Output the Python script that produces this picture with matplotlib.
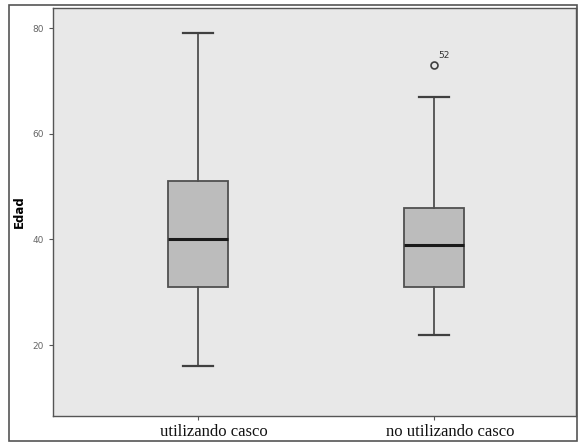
import matplotlib
matplotlib.use("Agg")
import matplotlib.pyplot as plt
import matplotlib.transforms as mtransforms
from matplotlib.patches import Rectangle

# data
grupos = ["utilizando casco", "no utilizando casco"]
mediana = [40, 39]
q1 = [31, 31]
q3 = [51, 46]
bigote_min = [16, 22]
bigote_max = [79, 67]
atipicos = [[], [73]]
atipicos_id = [[], ["52"]]

fig = plt.figure(figsize=(5.78, 4.44), dpi=100)
ax = fig.add_axes([53/578, 28/444, 523/578, 408/444])
ax.set_facecolor("#e8e8e8")

# outer frame around the whole chart
fig.patches.append(Rectangle((9/578, 3/444), 568/578, 436/444, transform=fig.transFigure,
                             fill=False, edgecolor="#555555", linewidth=1.2))

stats = []
for i in range(len(grupos)):
	stats.append({"med": mediana[i], "q1": q1[i], "q3": q3[i],
	              "whislo": bigote_min[i], "whishi": bigote_max[i],
	              "fliers": atipicos[i], "label": grupos[i]})

ax.bxp(stats, positions=[1, 2], widths=0.255, patch_artist=True, showfliers=True,
       boxprops=dict(facecolor="#bcbcbc", edgecolor="#505050", linewidth=1.3),
       medianprops=dict(color="#1a1a1a", linewidth=2.2),
       whiskerprops=dict(color="#505050", linewidth=1.3),
       capprops=dict(color="#404040", linewidth=1.6),
       capwidths=0.127,
       flierprops=dict(marker="o", markerfacecolor="none", markeredgecolor="#404040",
                       markersize=5, markeredgewidth=1.2))

for i in range(len(grupos)):
	for v, lab in zip(atipicos[i], atipicos_id[i]):
		ax.annotate(lab, (i + 1, v), xytext=(3, 5), textcoords="offset points",
		            fontsize=6.5, color="#333333")

ax.set_xlim(0.386, 2.602)
ax.set_ylim(6.6, 83.8)
ax.set_yticks([20, 40, 60, 80])
ax.tick_params(axis="y", labelsize=6.5, labelcolor="#666666", color="#555555", length=3, width=0.8)
ax.set_xticks([1, 2])
ax.set_xticklabels(grupos, fontfamily="Liberation Serif", fontsize=12, color="#111111")
ax.tick_params(axis="x", length=3, color="#555555", width=0.8, pad=3)
offset = mtransforms.ScaledTranslation(16/100, 0, fig.dpi_scale_trans)
for t in ax.get_xticklabels():
	t.set_transform(t.get_transform() + offset)

ax.set_ylabel("Edad", fontsize=8.5, fontweight="bold")
ax.yaxis.set_label_coords(-0.052, 0.5)

for s in ax.spines.values():
	s.set_color("#555555")
	s.set_linewidth(1.0)

fig.savefig("out.png", dpi=100)
